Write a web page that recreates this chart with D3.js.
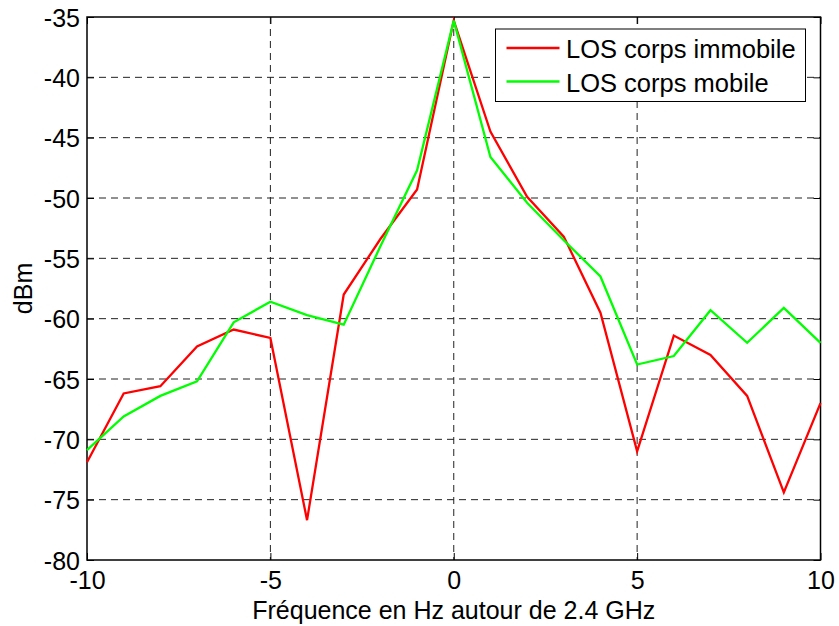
<!DOCTYPE html>
<html>
<head>
<meta charset="utf-8">
<script src="https://cdn.jsdelivr.net/npm/d3@7"></script>
<style>
  html, body { margin: 0; padding: 0; background: #fff; }
  svg { display: block; font-family: Arial, "Liberation Sans", sans-serif; }
</style>
</head>
<body>
<svg id="chart" width="839" height="626"></svg>
<script>
// Frequency offsets (Hz) around 2.4 GHz
const freqs = [-10, -9, -8, -7, -6, -5, -4, -3, -2, -1, 0, 1, 2, 3, 4, 5, 6, 7, 8, 9, 10];
// Received power (dBm), body standing still
const losImmobile = [-71.9, -66.2, -65.6, -62.3, -60.9, -61.6, -76.7, -58.0, -53.4, -49.3, -35.3,
                     -44.5, -49.9, -53.2, -59.5, -71.0, -61.4, -63.0, -66.4, -74.4, -67.0];
// Received power (dBm), body moving
const losMobile = [-70.9, -68.1, -66.4, -65.2, -60.3, -58.6, -59.7, -60.5, -54.0, -47.7, -35.3,
                   -46.6, -50.4, -53.5, -56.5, -63.8, -63.1, -59.3, -62.0, -59.1, -62.0];
const xTicks = [-10, -5, 0, 5, 10];
const yTicks = [-80, -75, -70, -65, -60, -55, -50, -45, -40, -35];
const seriesNames = ["LOS corps immobile", "LOS corps mobile"];
const seriesColors = ["#ff0000", "#00ff00"];

const svg = d3.select("#chart");
const plotL = 87, plotR = 820.5, plotT = 17, plotB = 560;

const x = d3.scaleLinear().domain([-10, 10]).range([plotL, plotR]);
const y = d3.scaleLinear().domain([-80, -35]).range([plotB, plotT]);
const fmt = d => String(d);   // plain hyphen-minus, as in the labels

// dashed grid
const grid = svg.append("g").attr("stroke", "#222").attr("stroke-width", 1)
  .attr("stroke-dasharray", "7,5");
grid.selectAll("line.v").data(xTicks.slice(1, -1)).join("line").attr("class", "v")
  .attr("x1", d => x(d)).attr("x2", d => x(d)).attr("y1", plotT).attr("y2", plotB);
grid.selectAll("line.h").data(yTicks.slice(1, -1)).join("line").attr("class", "h")
  .attr("y1", d => y(d)).attr("y2", d => y(d)).attr("x1", plotL).attr("x2", plotR);

// axes with inward ticks
const tickLen = 7;
const fontSize = "25px";
const axB = svg.append("g").attr("transform", `translate(0,${plotB})`)
  .call(d3.axisBottom(x).tickValues(xTicks).tickSizeInner(-tickLen).tickSizeOuter(0).tickFormat(fmt));
const axT = svg.append("g").attr("transform", `translate(0,${plotT})`)
  .call(d3.axisTop(x).tickValues(xTicks).tickSizeInner(-tickLen).tickSizeOuter(0).tickFormat(""));
const axL = svg.append("g").attr("transform", `translate(${plotL},0)`)
  .call(d3.axisLeft(y).tickValues(yTicks).tickSizeInner(-tickLen).tickSizeOuter(0).tickPadding(7).tickFormat(fmt));
const axR = svg.append("g").attr("transform", `translate(${plotR},0)`)
  .call(d3.axisRight(y).tickValues(yTicks).tickSizeInner(-tickLen).tickSizeOuter(0).tickFormat(""));
[axB, axT, axL, axR].forEach(a => {
  a.select(".domain").remove();
  a.selectAll(".tick line").attr("stroke", "#000").attr("stroke-width", 1);
  a.selectAll("text").attr("fill", "#000").style("font-size", fontSize)
    .style("font-family", "Arial, 'Liberation Sans', sans-serif");
});
axB.selectAll("text").attr("y", 29).attr("dy", 0);
axL.selectAll("text").attr("dy", "0.36em");

// frame
svg.append("rect").attr("x", plotL).attr("y", plotT)
  .attr("width", plotR - plotL).attr("height", plotB - plotT)
  .attr("fill", "none").attr("stroke", "#000").attr("stroke-width", 1.5);

// data lines
const line = d3.line().x((d, i) => x(freqs[i])).y(d => y(d));
[losImmobile, losMobile].forEach((s, k) => {
  svg.append("path").datum(s).attr("d", line)
    .attr("fill", "none").attr("stroke", seriesColors[k]).attr("stroke-width", 2.3)
    .attr("stroke-linejoin", "miter");
});

// axis titles
svg.append("text").attr("x", (plotL + plotR) / 2).attr("y", 619)
  .attr("text-anchor", "middle").style("font-size", fontSize)
  .text("Fréquence en Hz autour de 2.4 GHz");
svg.append("text").attr("transform", `translate(31.5,${(plotT + plotB) / 2}) rotate(-90)`)
  .attr("text-anchor", "middle").style("font-size", fontSize)
  .text("dBm");

// legend
const lg = svg.append("g");
lg.append("rect").attr("x", 495.5).attr("y", 29).attr("width", 310).attr("height", 72.5)
  .attr("fill", "#fff").attr("stroke", "#000").attr("stroke-width", 1);
seriesNames.forEach((n, k) => {
  const cy = 48 + k * 33.5;
  lg.append("line").attr("x1", 506.5).attr("x2", 559.5).attr("y1", cy).attr("y2", cy)
    .attr("stroke", seriesColors[k]).attr("stroke-width", 2.3);
  lg.append("text").attr("x", 566).attr("y", cy + 10)
    .style("font-size", "25.5px").text(n);
});
</script>
</body>
</html>
